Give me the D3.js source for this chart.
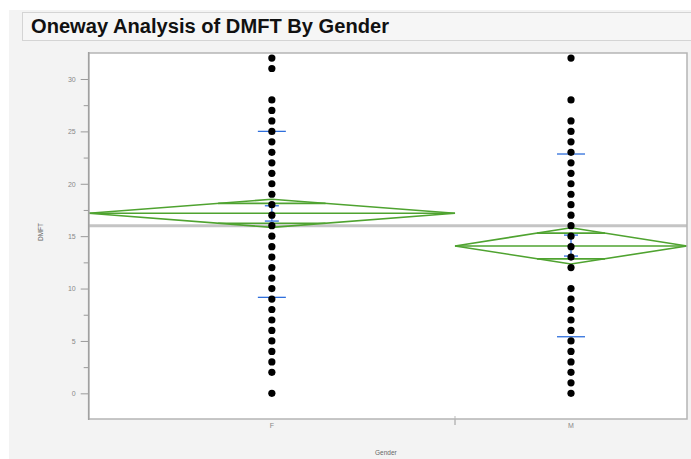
<!DOCTYPE html>
<html><head><meta charset="utf-8">
<script src="https://cdn.jsdelivr.net/npm/d3@7"></script>
<style>body{margin:0;background:#fff;} svg{display:block;font-family:"Liberation Sans",Arial,sans-serif;}</style>
</head><body>
<svg id="c" width="691" height="459"></svg>
<script>
// ---- data ----
const categories = ["F", "M"];
const groupCounts = [60, 38];
const valuesF = [0,2,3,4,5,6,7,8,9,10,11,12,13,14,15,16,17,18,19,20,21,22,23,24,25,26,27,28,31,32];
const valuesM = [0,1,2,3,4,5,6,7,8,9,10,12,13,14,15,16,17,18,19,20,21,22,23,24,25,26,28,32];
const means = [17.18, 14.06];
const ciLower = [15.84, 12.34];
const ciUpper = [18.52, 15.80];
const sdLower = [9.16, 5.40];
const sdUpper = [25.0, 22.84];
const seLower = [16.44, 13.1];
const seUpper = [17.9, 15.1];
const grandMean = 16.0;
const yTicks = [0, 5, 10, 15, 20, 25, 30];
const yMinorTicks = [2.5, 7.5, 12.5, 17.5, 22.5, 27.5];
const title = "Oneway Analysis of DMFT By Gender";
const xTitle = "Gender";
const yTitle = "DMFT";

// ---- layout ----
const svg = d3.select("#c");
const L = 88.7, R = 687, T = 53, B = 419;
svg.append("rect").attr("x", 9).attr("y", 10).attr("width", 682).attr("height", 449).attr("fill", "#f3f3f3");
svg.append("rect").attr("x", 22.5).attr("y", 12.5).attr("width", 680).attr("height", 28)
  .attr("fill", "#f6f6f6").attr("stroke", "#d4d4d4");
svg.append("text").attr("x", 31).attr("y", 33).attr("font-size", 19.5).attr("font-weight", "bold")
  .attr("fill", "#111").attr("textLength", 358).attr("lengthAdjust", "spacingAndGlyphs").text(title);

svg.append("rect").attr("x", L).attr("y", T).attr("width", R - L).attr("height", B - T).attr("fill", "#fff");

const total = d3.sum(groupCounts);
const x = d3.scaleLinear().domain([0, total]).range([L, R]);
const cum = [0]; groupCounts.forEach((c, i) => cum.push(cum[i] + c));
const centers = categories.map((c, i) => x((cum[i] + cum[i + 1]) / 2));
const y = d3.scaleLinear().domain([-2.45, 32.48]).range([B, T]);

// y axis
const yAxis = d3.axisLeft(y).tickValues(yTicks).tickSize(8).tickPadding(5);
const ga = svg.append("g").attr("transform", `translate(${L},0)`).call(yAxis);
ga.select(".domain").remove();
ga.selectAll("line").attr("stroke", "#9a9a9a");
ga.selectAll("text").attr("font-size", 7).attr("fill", "#888").attr("font-family", "Liberation Sans, Arial, sans-serif");
const gm = svg.append("g").attr("transform", `translate(${L},0)`).call(d3.axisLeft(y).tickValues(yMinorTicks).tickSize(5).tickFormat(""));
gm.select(".domain").remove();
gm.selectAll("line").attr("stroke", "#9a9a9a");

// x axis labels and separator ticks
categories.forEach((c, i) => {
  svg.append("text").attr("x", centers[i]).attr("y", 428).attr("text-anchor", "middle")
    .attr("font-size", 7).attr("fill", "#888").text(c);
});
for (let i = 1; i < categories.length; i++) {
  svg.append("line").attr("x1", x(cum[i])).attr("x2", x(cum[i])).attr("y1", B).attr("y2", 425)
    .attr("stroke", "#9a9a9a").attr("stroke-width", 1);
  svg.append("line").attr("x1", x(cum[i])).attr("x2", x(cum[i])).attr("y1", B - 3).attr("y2", B)
    .attr("stroke", "#bbb").attr("stroke-width", 1);
}
svg.append("text").attr("x", (L + R) / 2 - 2).attr("y", 455).attr("text-anchor", "middle")
  .attr("font-size", 6.5).attr("fill", "#666").text(xTitle);
svg.append("text").attr("transform", `translate(43,${(T + B) / 2 - 4}) rotate(-90)`).attr("text-anchor", "middle")
  .attr("font-size", 6.5).attr("fill", "#666").text(yTitle);

// grand mean
svg.append("line").attr("x1", L).attr("x2", R).attr("y1", y(grandMean)).attr("y2", y(grandMean))
  .attr("stroke", "#c4c4c4").attr("stroke-width", 3);

// diamonds
const green = "#4fa330";
categories.forEach((c, i) => {
  const x0 = x(cum[i]), x1 = x(cum[i + 1]), cx = centers[i];
  const ym = y(means[i]), yu = y(ciUpper[i]), yl = y(ciLower[i]);
  const g = svg.append("g").attr("stroke", green).attr("stroke-width", 1.6).attr("fill", "none");
  g.append("path").attr("d", `M${x0},${ym}L${cx},${yu}L${x1},${ym}L${cx},${yl}Z`);
  g.append("line").attr("x1", x0).attr("x2", x1).attr("y1", ym).attr("y2", ym);
  const half = (ciUpper[i] - means[i]) / Math.SQRT2;
  const f = 1 - 1 / Math.SQRT2;
  const w = (cx - x0) * f, w2 = (x1 - cx) * f;
  [means[i] + half, means[i] - half].forEach(v => {
    g.append("line").attr("x1", cx - w).attr("x2", cx + w2).attr("y1", y(v)).attr("y2", y(v));
  });
});

// blue sd and se lines
const blue = "#2f6fdc";
categories.forEach((c, i) => {
  const cx = centers[i];
  const g = svg.append("g").attr("stroke", blue).attr("stroke-width", 1.3);
  [sdLower[i], sdUpper[i]].forEach(v => g.append("line").attr("x1", cx - 14).attr("x2", cx + 14).attr("y1", y(v)).attr("y2", y(v)));
  [seLower[i], seUpper[i]].forEach(v => g.append("line").attr("x1", cx - 7).attr("x2", cx + 7).attr("y1", y(v)).attr("y2", y(v)));
  g.append("line").attr("x1", cx).attr("x2", cx).attr("y1", y(seLower[i])).attr("y2", y(seUpper[i]));
});

// points
[valuesF, valuesM].forEach((vals, i) => {
  svg.append("g").selectAll("circle").data(vals).join("circle")
    .attr("cx", centers[i]).attr("cy", d => y(d)).attr("r", 3.6).attr("fill", "#000");
});

// frame
svg.append("rect").attr("x", L).attr("y", T).attr("width", R - L).attr("height", B - T)
  .attr("fill", "none").attr("stroke", "#b5b5b5").attr("stroke-width", 1.5);
svg.append("line").attr("x1", L).attr("x2", L).attr("y1", T - 1).attr("y2", B + 1).attr("stroke", "#a0a0a0").attr("stroke-width", 1.5);
</script>
</body></html>
